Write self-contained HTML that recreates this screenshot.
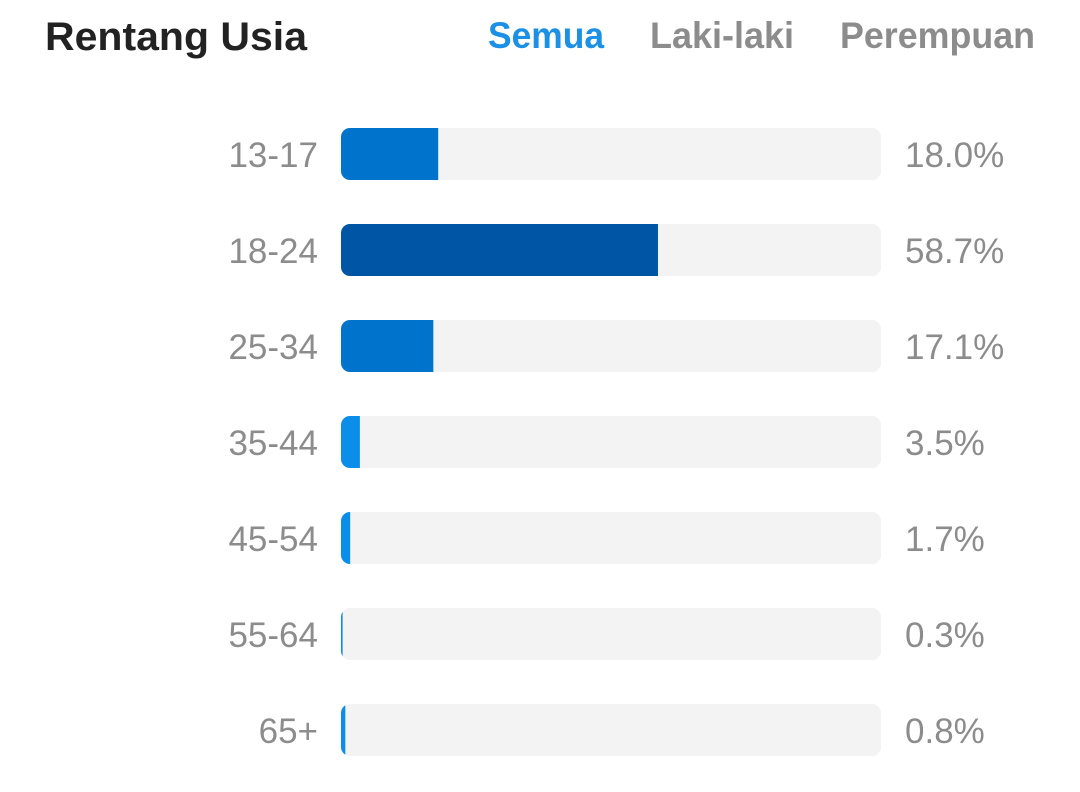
<!DOCTYPE html>
<html><head><meta charset="utf-8"><style>
html,body{margin:0;padding:0;background:#fff;}
svg{display:block;font-family:"Liberation Sans",sans-serif;}
</style></head><body>
<svg id="chart" width="1080" height="792" viewBox="0 0 1080 792">
  <text x="45" y="50" font-size="40" font-weight="bold" fill="#222" textLength="262" lengthAdjust="spacingAndGlyphs">Rentang Usia</text>
  <text x="488" y="48" font-size="37" font-weight="bold" fill="#1a90e6" textLength="116" lengthAdjust="spacingAndGlyphs">Semua</text>
  <text x="650" y="48" font-size="37" font-weight="bold" fill="#8c8c8c" textLength="144" lengthAdjust="spacingAndGlyphs">Laki-laki</text>
  <text x="840" y="48" font-size="37" font-weight="bold" fill="#8c8c8c" textLength="195" lengthAdjust="spacingAndGlyphs">Perempuan</text>
  <g id="rows"></g>
</svg>
<script>
const categories = ["13-17","18-24","25-34","35-44","45-54","55-64","65+"];
const values = [18.0, 58.7, 17.1, 3.5, 1.7, 0.3, 0.8];
const valueLabels = ["18.0%","58.7%","17.1%","3.5%","1.7%","0.3%","0.8%"];

const NS = "http://www.w3.org/2000/svg";
const trackX = 341, trackW = 540, barH = 52, firstCenter = 154, step = 96;
const xScale = v => v / 100 * trackW;
const yScale = i => firstCenter + i * step;
function colorFor(v){ return v > 40 ? "#0055a5" : (v > 10 ? "#0074cc" : "#0b8ee9"); }
const g = document.getElementById("rows");
const defs = document.createElementNS(NS, "defs");
g.appendChild(defs);
categories.forEach((c, i) => {
  const cy = yScale(i), top = cy - barH / 2;
  const cp = document.createElementNS(NS, "clipPath");
  cp.setAttribute("id", "clip" + i);
  const cr = document.createElementNS(NS, "rect");
  cr.setAttribute("x", trackX); cr.setAttribute("y", top);
  cr.setAttribute("width", trackW); cr.setAttribute("height", barH);
  cr.setAttribute("rx", 9);
  cp.appendChild(cr); defs.appendChild(cp);

  const lab = document.createElementNS(NS, "text");
  
  
  lab.setAttribute("x", 318); lab.setAttribute("y", cy + 13);
  lab.setAttribute("text-anchor", "end"); lab.setAttribute("font-size", "35");
  lab.setAttribute("fill", "#8c8c8c");
  lab.textContent = c; g.appendChild(lab);

  const track = document.createElementNS(NS, "rect");
  
  
  track.setAttribute("x", trackX); track.setAttribute("y", top);
  track.setAttribute("width", trackW); track.setAttribute("height", barH);
  track.setAttribute("rx", 9); track.setAttribute("fill", "#f3f3f3");
  g.appendChild(track);

  const bar = document.createElementNS(NS, "rect");
  
  
  bar.setAttribute("x", trackX); bar.setAttribute("y", top);
  bar.setAttribute("width", xScale(values[i])); bar.setAttribute("height", barH);
  bar.setAttribute("fill", colorFor(values[i]));
  bar.setAttribute("clip-path", "url(#clip" + i + ")");
  g.appendChild(bar);

  const val = document.createElementNS(NS, "text");
  
  
  val.setAttribute("x", 905); val.setAttribute("y", cy + 13);
  val.setAttribute("font-size", "35"); val.setAttribute("fill", "#8c8c8c");
  val.textContent = valueLabels[i]; g.appendChild(val);
});
</script>
</body></html>
